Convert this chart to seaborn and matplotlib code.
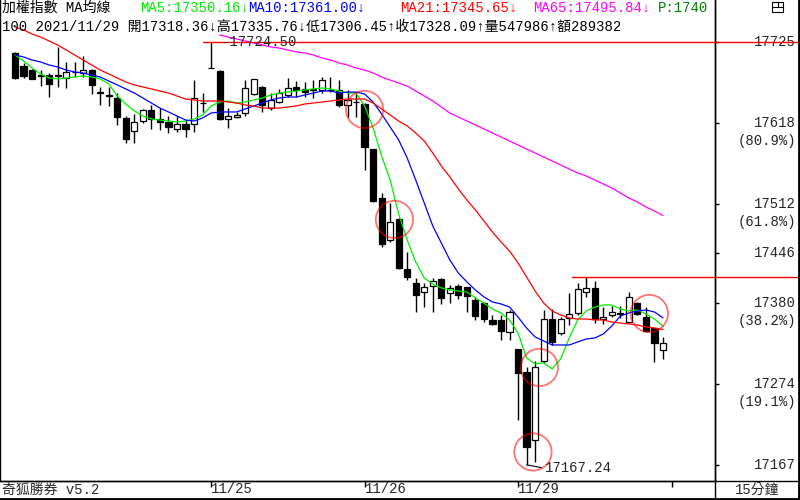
import matplotlib
matplotlib.use("Agg")
import matplotlib.pyplot as plt
import matplotlib.transforms as mtransforms
from matplotlib.patches import Rectangle
import numpy as np
import pandas as pd
import seaborn as sns

sns.set_style("white")
plt.rcParams['font.family'] = ['Liberation Mono', 'Noto Sans CJK TC']

# 15 minute candles, 11/23 (tail) .. 11/29
opens = [17710.5, 17693.0, 17687.7, 17681.1, 17681.1, 17680.2, 17676.8, 17685.0, 17684.1, 17687.7,
         17657.8, 17653.8, 17650.4, 17624.8, 17607.3, 17620.5, 17635.0, 17623.1, 17619.5, 17609.5,
         17616.1, 17616.1, 17643.8, 17690.8, 17686.4, 17623.1, 17625.3, 17630.6, 17656.1, 17664.9,
         17638.0, 17645.9, 17654.7, 17665.7, 17662.6, 17661.0, 17661.3, 17661.5, 17661.3, 17641.6,
         17646.0, 17642.9, 17583.6, 17519.4, 17463.6, 17491.3, 17425.0, 17406.9, 17395.1, 17403.0,
         17412.2, 17393.7, 17403.0, 17401.6, 17384.5, 17381.0, 17358.1, 17358.1, 17342.7, 17320.0,
         17289.2, 17200.0, 17304.1, 17359.1, 17340.6, 17361.2, 17367.8, 17394.7, 17400.0, 17359.1,
         17364.7, 17367.0, 17355.9, 17380.2, 17362.5, 17347.2, 17318.36]
highs = [17711.8, 17696.5, 17688.6, 17687.7, 17683.3, 17718.0, 17697.8, 17698.6, 17706.1, 17688.6,
         17664.9, 17665.7, 17657.0, 17627.1, 17629.7, 17636.3, 17641.6, 17637.2, 17627.1, 17627.1,
         17621.8, 17674.5, 17657.0, 17724.5, 17687.5, 17637.6, 17632.7, 17674.5, 17676.0, 17667.0,
         17657.4, 17662.6, 17676.8, 17673.6, 17671.5, 17674.5, 17678.9, 17678.9, 17674.5, 17661.3,
         17659.1, 17644.0, 17584.0, 17525.6, 17512.4, 17492.0, 17448.2, 17413.5, 17406.9, 17413.5,
         17413.5, 17404.3, 17405.6, 17402.0, 17388.9, 17382.3, 17364.7, 17364.7, 17371.3, 17320.5,
         17296.2, 17304.1, 17371.3, 17372.2, 17362.5, 17393.3, 17407.3, 17415.2, 17410.0, 17375.7,
         17376.6, 17377.0, 17395.5, 17382.3, 17375.7, 17348.0, 17335.76]
lows = [17675.4, 17676.8, 17675.4, 17667.0, 17651.7, 17665.7, 17663.6, 17678.1, 17678.9, 17655.7,
        17641.6, 17640.6, 17615.2, 17591.1, 17591.1, 17618.2, 17609.5, 17608.6, 17604.3, 17606.4,
        17599.8, 17606.4, 17632.7, 17690.0, 17622.0, 17611.2, 17624.0, 17627.1, 17655.0, 17632.7,
        17635.0, 17644.2, 17652.5, 17652.5, 17651.7, 17650.4, 17657.0, 17659.1, 17639.3, 17626.1,
        17626.1, 17555.9, 17514.1, 17454.8, 17461.4, 17426.0, 17410.9, 17369.1, 17375.7, 17369.1,
        17379.2, 17380.5, 17385.8, 17369.1, 17358.1, 17355.9, 17351.6, 17331.8, 17331.8, 17226.3,
        17167.24, 17171.4, 17301.0, 17325.2, 17338.4, 17351.5, 17364.7, 17388.0, 17353.8, 17352.5,
        17361.7, 17361.0, 17353.8, 17364.7, 17342.7, 17302.4, 17306.45]
closes = [17676.8, 17680.2, 17675.4, 17680.2, 17668.8, 17681.5, 17684.7, 17685.5, 17687.3, 17667.9,
          17658.3, 17654.3, 17625.3, 17596.3, 17619.5, 17635.0, 17623.1, 17619.5, 17613.0, 17616.5,
          17609.5, 17650.4, 17644.5, 17690.0, 17623.1, 17627.1, 17628.4, 17663.6, 17675.4, 17641.6,
          17648.2, 17657.0, 17664.4, 17661.3, 17659.1, 17662.5, 17674.5, 17661.0, 17641.6, 17648.2,
          17645.0, 17586.6, 17515.4, 17457.9, 17487.7, 17426.3, 17414.4, 17391.1, 17401.6, 17410.0,
          17387.1, 17400.3, 17391.1, 17390.2, 17363.8, 17359.1, 17352.9, 17344.0, 17369.1, 17288.7,
          17191.1, 17296.6, 17359.1, 17328.8, 17359.1, 17365.7, 17398.6, 17400.0, 17359.1, 17362.5,
          17369.1, 17366.0, 17388.9, 17365.7, 17344.0, 17327.4, 17328.09]

# moving averages as drawn on the chart
ma5 = [17707.5, 17699.6, 17690.4, 17682.5, 17677.2, 17675.9, 17677.2, 17678.5, 17679.8, 17678.5,
       17675.9, 17669.3, 17653.5, 17642.9, 17633.7, 17627.1, 17623.1, 17621.8, 17620.5, 17619.2,
       17620.5, 17623.1, 17628.4, 17640.3, 17645.5, 17646.9, 17644.2, 17645.5, 17648.2, 17650.8,
       17654.8, 17657.4, 17658.7, 17660.0, 17661.4, 17662.7, 17664.0, 17662.7, 17660.0, 17657.4,
       17657.4, 17640.3, 17611.3, 17574.4, 17542.7, 17497.9, 17463.6, 17434.6, 17413.5, 17405.6,
       17400.4, 17397.7, 17396.4, 17395.1, 17387.2, 17380.6, 17372.7, 17367.4, 17358.2, 17341.0,
       17308.1, 17300.2, 17301.5, 17293.6, 17306.8, 17334.4, 17358.2, 17370.0, 17375.3, 17377.9,
       17377.9, 17372.7, 17370.0, 17371.4, 17366.1, 17359.5, 17350.16]
ma10 = [17707.5, 17704.9, 17700.9, 17698.3, 17694.3, 17691.7, 17687.7, 17685.1, 17683.8, 17681.1,
        17678.5, 17673.2, 17668.0, 17662.7, 17657.4, 17650.8, 17644.2, 17637.6, 17632.4, 17627.1,
        17621.8, 17620.5, 17624.5, 17631.0, 17632.4, 17632.4, 17632.4, 17636.3, 17640.3, 17644.2,
        17648.2, 17650.8, 17652.1, 17652.1, 17654.8, 17657.4, 17660.0, 17660.0, 17657.4, 17658.7,
        17658.7, 17656.1, 17645.5, 17629.7, 17612.6, 17595.5, 17571.7, 17542.7, 17512.4, 17482.1,
        17459.7, 17437.3, 17420.1, 17408.3, 17397.7, 17388.5, 17381.9, 17379.3, 17375.3, 17362.1,
        17347.6, 17335.8, 17330.5, 17325.2, 17325.2, 17325.2, 17329.2, 17333.1, 17334.4, 17339.7,
        17350.3, 17363.4, 17367.4, 17370.0, 17371.4, 17368.7, 17361.00]
ma21 = [17744.4, 17740.5, 17735.2, 17731.2, 17726.0, 17720.7, 17714.1, 17707.5, 17700.9, 17694.3,
        17687.7, 17682.5, 17677.2, 17671.9, 17668.0, 17665.3, 17662.7, 17660.0, 17657.4, 17653.5,
        17649.5, 17648.2, 17646.9, 17646.9, 17646.9, 17645.5, 17644.2, 17641.6, 17640.3, 17637.6,
        17637.6, 17637.6, 17639.0, 17640.3, 17642.9, 17644.2, 17645.5, 17646.9, 17648.2, 17649.5,
        17649.5, 17649.5, 17644.2, 17636.3, 17628.4, 17620.5, 17613.9, 17604.7, 17594.1, 17578.3,
        17561.2, 17546.7, 17530.9, 17516.4, 17503.2, 17488.7, 17474.2, 17461.0, 17449.1, 17433.3,
        17414.9, 17396.4, 17380.6, 17370.0, 17364.8, 17360.8, 17359.5, 17359.5, 17358.2, 17358.2,
        17355.5, 17354.2, 17352.9, 17351.6, 17349.0, 17347.6, 17345.65]
ma65_start = 25
ma65 = [17733.9, 17731.2, 17728.6, 17726.0, 17723.3, 17720.7, 17718.0, 17716.7, 17714.1, 17711.5,
        17710.1, 17707.5, 17703.5, 17700.9, 17697.0, 17694.3, 17690.4, 17687.7, 17683.8, 17678.5,
        17674.5, 17670.6, 17666.6, 17660.0, 17653.5, 17646.9, 17639.0, 17631.0, 17625.8, 17620.5,
        17615.2, 17610.0, 17604.7, 17599.4, 17594.1, 17588.9, 17583.6, 17578.3, 17573.0, 17567.8,
        17562.5, 17557.2, 17552.0, 17548.0, 17542.7, 17537.5, 17532.2, 17525.6, 17519.0, 17513.7,
        17507.1, 17501.9, 17495.84]

day_starts = [24, 42, 60, 78]
day_labels = ["11/25", "11/26", "11/29", ""]

fib_ratios = [1.0, 0.809, 0.618, 0.5, 0.382, 0.191, 0.0]
resist_price = 17415.2
resist_from = 67

# red marker circles (candle position, price)
circle_pos = [42.0, 45.5, 62.5, 61.75, 75.4]
circle_price = [17635.7, 17490.7, 17295.6, 17184.2, 17366.7]

volume = 547986
amount = "289382"

df = pd.DataFrame({"open": opens, "high": highs, "low": lows, "close": closes})
df["idx"] = np.arange(1, len(df) + 1)
hi_price = df["high"].max()
lo_price = df["low"].min()
hi_idx = df.loc[df["high"].idxmax(), "idx"]
lo_idx = df.loc[df["low"].idxmin(), "idx"]

W, H = 800, 500
step = 8.526  # pixels between candles
fig = plt.figure(figsize=(8, 5), dpi=100)
ax = fig.add_axes([0, 19 / H, 715 / W, 481 / H])
ax.set_xlim(1 - 15 / step, 1 + 700 / step)
ax.set_ylim(17145.9, 17780.0)

# candles
ax.vlines(df["idx"], df["low"], df["high"], color="black", lw=1, zorder=3)
body_lo = df[["open", "close"]].min(axis=1)
body_h = (df["close"] - df["open"]).abs().clip(lower=0.6)
up = df["close"] >= df["open"]
ax.bar(df["idx"], body_h, bottom=body_lo, width=0.72,
       color=np.where(up, "white", "black"), edgecolor="black", linewidth=0.9, zorder=4)

# moving averages
sns.lineplot(x=df["idx"], y=ma5, ax=ax, color="#00ee00", linewidth=0.9, zorder=5)
sns.lineplot(x=df["idx"], y=ma10, ax=ax, color="#0000ff", linewidth=0.9, zorder=5)
sns.lineplot(x=df["idx"], y=ma21, ax=ax, color="#ff0000", linewidth=0.9, zorder=5)
sns.lineplot(x=df["idx"][ma65_start - 1:], y=ma65, ax=ax, color="#ff00ff", linewidth=0.9, zorder=5)
ax.set_xlabel("")
ax.set_ylabel("")

# horizontal red levels reaching into the price panel
x_far = 1 + 785 / step
ax.plot([hi_idx - 1, x_far], [hi_price, hi_price], color="red", lw=1, clip_on=False, zorder=6)
ax.plot([resist_from - 0.7, x_far], [resist_price, resist_price], color="red", lw=1,
        clip_on=False, zorder=6)

ax.scatter(circle_pos, circle_price, s=720, facecolors="none",
           edgecolors=(1, 0, 0, 0.55), linewidths=1.3, zorder=7)

ax.annotate(f"-{hi_price:.2f}", xy=(hi_idx, hi_price), xytext=(7.5, 0),
            textcoords="offset points", ha="left", va="center", fontsize=10, zorder=8)
ax.annotate(f"{lo_price:.2f}", xy=(lo_idx, lo_price), xytext=(13, -2.5),
            textcoords="offset points", ha="left", va="center", fontsize=10, zorder=8,
            arrowprops=dict(arrowstyle="-", color="black", lw=0.8, shrinkA=0, shrinkB=0,
                            relpos=(0, 0.5)))

# spines / ticks
for s in ["left", "right", "bottom"]:
    ax.spines[s].set_color("black")
    ax.spines[s].set_linewidth(1)
ax.spines["top"].set_visible(False)

levels = [lo_price + r * (hi_price - lo_price) for r in fib_ratios]
ax.yaxis.tick_right()
ax.set_yticks(levels)
ax.tick_params(axis="y", right=True, left=False, direction="out", length=3, width=1,
               labelright=False, labelleft=False, color="black")
ax.set_xticks(day_starts)
ax.set_xticklabels(day_labels, fontsize=10, ha="left")
ax.tick_params(axis="x", bottom=True, direction="out", length=4, width=1, pad=-3.5,
               color="black")

trans = mtransforms.blended_transform_factory(fig.transFigure, ax.transData)
for r, v in zip(fib_ratios, levels):
    ax.text(796 / W, v, f"{int(v + 0.5)}", transform=trans, ha="right", va="center",
            fontsize=10, clip_on=False)
    if 0 < r < 1 and r != 0.5:
        ax.annotate(f"({r * 100:.1f}%)", xy=(796 / W, v), xycoords=trans, xytext=(0, -13),
                    textcoords="offset points", ha="right", va="center", fontsize=10)

# header lines
def hx(px):
    return px / 715


def hy(py):
    return 1 - py / 481


last = df.iloc[-1]
head1 = [(2, "加權指數 MA均線", "black"),
         (140, f"MA5:{ma5[-1]:.2f}↓", "#00ee00"),
         (248, f"MA10:{ma10[-1]:.2f}↓", "#0000ff"),
         (400, f"MA21:{ma21[-1]:.2f}↓", "#ff0000"),
         (533, f"MA65:{ma65[-1]:.2f}↓", "#ff00ff"),
         (658, "P:1740", "#008000")]
for px, txt, col in head1:
    ax.text(hx(px), hy(8), txt, transform=ax.transAxes, color=col, fontsize=10,
            ha="left", va="center", clip_on=True, zorder=9)
head2 = (f"100 2021/11/29 開{last['open']:.2f}↓高{last['high']:.2f}↓"
         f"低{last['low']:.2f}↑收{last['close']:.2f}↑量{volume}↑額{amount}")
ax.text(hx(2), hy(27), head2, transform=ax.transAxes, color="black", fontsize=10,
        ha="left", va="center", clip_on=True, zorder=9)

# frame furniture in pixel space
ov = fig.add_axes([0, 0, 1, 1], facecolor="none")
ov.set_xlim(0, W)
ov.set_ylim(H, 0)
ov.axis("off")
ov.plot([0, W], [481, 481], color="black", lw=1)
ov.plot([715, 715], [0, H], color="black", lw=1)
ov.plot([798.8, 798.8], [0, H], color="black", lw=2)
ov.plot([0, W], [498.8, 498.8], color="black", lw=2)
ov.add_patch(Rectangle((772, 2), 11, 9.5, fill=False, edgecolor="black", lw=0.8))
ov.plot([772, 783], [6.8, 6.8], color="black", lw=0.8)
ov.plot([778, 778], [2, 6.8], color="black", lw=0.8)
ov.text(2, 490, "奇狐勝券 v5.2", fontsize=10, ha="left", va="center")
ov.text(757, 490, "15分鐘", fontsize=10, ha="center", va="center")

fig.savefig("out.png", dpi=100)
